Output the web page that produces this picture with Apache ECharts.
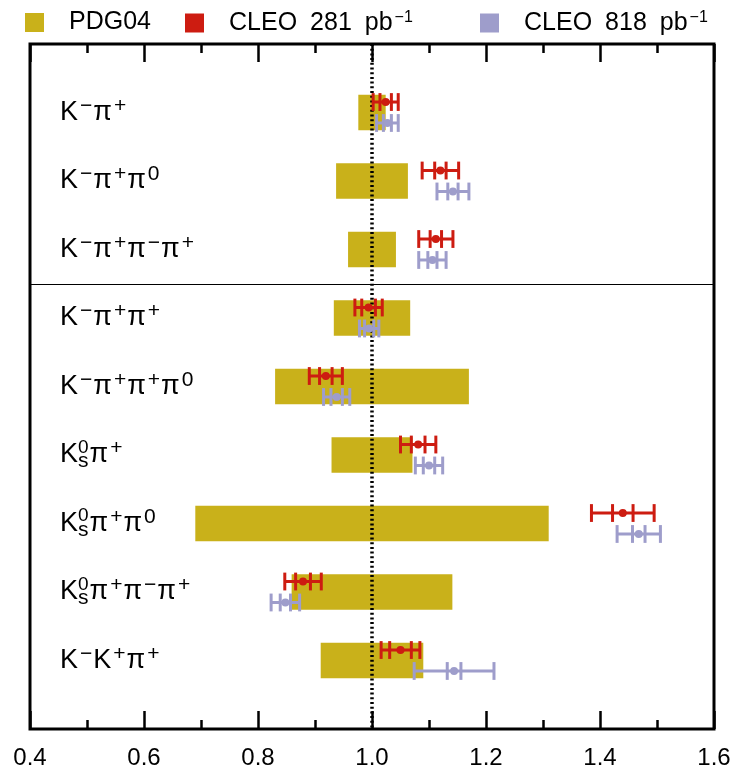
<!DOCTYPE html>
<html>
<head>
<meta charset="utf-8">
<script src="https://cdn.jsdelivr.net/npm/echarts@6/dist/echarts.min.js"></script>
<style>
  html, body { margin: 0; padding: 0; background: #fff; }
  #chart { width: 736px; height: 773px; }
</style>
</head>
<body>
<div id="chart"></div>
<script>
// Decay channels, top to bottom (rich-text markup: b = base, sp = superscript, sz/sb = stacked sup/sub)
const channels = [
  '{b|K}{sp|−}{b|π}{sp|+}',
  '{b|K}{sp|−}{b|π}{sp|+}{b|π}{sp|0}',
  '{b|K}{sp|−}{b|π}{sp|+}{b|π}{sp|−}{b|π}{sp|+}',
  '{b|K}{sp|−}{b|π}{sp|+}{b|π}{sp|+}',
  '{b|K}{sp|−}{b|π}{sp|+}{b|π}{sp|+}{b|π}{sp|0}',
  '{b|K}{sz|0}{sb|s}{b|π}{sp|+}',
  '{b|K}{sz|0}{sb|s}{b|π}{sp|+}{b|π}{sp|0}',
  '{b|K}{sz|0}{sb|s}{b|π}{sp|+}{b|π}{sp|−}{b|π}{sp|+}',
  '{b|K}{sp|−}{b|K}{sp|+}{b|π}{sp|+}'
];

// PDG04 reference (normalised) and its uncertainty
const pdgValue = [1.0, 1.0, 1.0, 1.0, 1.0, 1.0, 1.0, 1.0, 1.0];
const pdgError = [0.024, 0.063, 0.042, 0.067, 0.170, 0.071, 0.310, 0.141, 0.090];

// CLEO 281 pb^-1: central value, statistical error, total error
const cleo281Value = [1.024, 1.120, 1.112, 0.994, 0.919, 1.081, 1.440, 0.879, 1.050];
const cleo281Stat  = [0.010, 0.010, 0.010, 0.012, 0.011, 0.012, 0.018, 0.013, 0.019];
const cleo281Total = [0.022, 0.032, 0.030, 0.024, 0.029, 0.031, 0.055, 0.032, 0.034];

// CLEO 818 pb^-1: central value, statistical error, total error
const cleo818Value = [1.027, 1.142, 1.106, 0.995, 0.938, 1.100, 1.468, 0.848, 1.144];
const cleo818Stat  = [0.007, 0.009, 0.008, 0.008, 0.010, 0.010, 0.011, 0.009, 0.012];
const cleo818Total = [0.019, 0.028, 0.024, 0.017, 0.023, 0.024, 0.038, 0.025, 0.070];

const xTicks = [0.4, 0.6, 0.8, 1.0, 1.2, 1.4, 1.6];

const GOLD = '#c9b11a';
const RED = '#cd1c11';
const LAVENDER = '#9e9dcb';
const FONT = "'Liberation Sans', Arial, sans-serif";

const pdgData = pdgValue.map((v, i) => [i, v, pdgError[i]]);
const c281Data = cleo281Value.map((v, i) => [i, v, cleo281Stat[i], cleo281Total[i]]);
const c818Data = cleo818Value.map((v, i) => [i, v, cleo818Stat[i], cleo818Total[i]]);

function renderBand(params, api) {
  const row = api.value(0), v = api.value(1), e = api.value(2);
  const a = api.coord([v - e, row - 0.26]);
  const b = api.coord([v + e, row + 0.26]);
  return {
    type: 'rect',
    shape: { x: a[0], y: a[1], width: b[0] - a[0], height: b[1] - a[1] },
    style: { fill: GOLD }
  };
}

function errorRenderer(color, rowShift) {
  return function (params, api) {
    const row = api.value(0) + rowShift;
    const v = api.value(1), s = api.value(2), t = api.value(3);
    const c = api.coord([v, row]);
    const capHalf = api.size([0, 0.13])[1];
    const xs = [v - t, v - s, v + s, v + t].map(x => api.coord([x, row])[0]);
    const lineStyle = { stroke: color, lineWidth: 3 };
    const children = [{
      type: 'line',
      shape: { x1: xs[0], y1: c[1], x2: xs[3], y2: c[1] },
      style: lineStyle
    }];
    xs.forEach(x => children.push({
      type: 'line',
      shape: { x1: x, y1: c[1] - capHalf, x2: x, y2: c[1] + capHalf },
      style: lineStyle
    }));
    children.push({
      type: 'circle',
      shape: { cx: c[0], cy: c[1], r: 4 },
      style: { fill: color }
    });
    return { type: 'group', children };
  };
}

const axisCommon = {
  type: 'value',
  min: 0.4,
  max: 1.6,
  interval: 0.2,
  axisLine: { show: false, onZero: false },
  splitLine: { show: false },
  axisTick: { show: true, inside: true, length: 18, lineStyle: { color: '#000', width: 2.5 } },
  minorTick: { show: true, splitNumber: 2, length: 9, lineStyle: { color: '#000', width: 2.5 } }
};

const legendText = {
  color: '#000',
  fontFamily: FONT,
  fontSize: 25,
  rich: {
    g: { width: 20, fontSize: 25, lineHeight: 26 },
    t: { fontSize: 25, fontFamily: FONT, color: '#000', lineHeight: 26 },
    s: { width: 13, fontSize: 25, lineHeight: 26 },
    sp: { fontSize: 16, fontFamily: FONT, color: '#000', verticalAlign: 'top', lineHeight: 14, padding: [0, 0, 0, 2] }
  }
};

function legendFor(name, left, label) {
  return {
    left: left,
    top: 5,
    itemWidth: 19,
    itemHeight: 19,
    data: [{ name: name, icon: 'rect' }],
    formatter: () => label,
    textStyle: legendText,
    selectedMode: false
  };
}

const chart = echarts.init(document.getElementById('chart'), null, { renderer: 'canvas' });

chart.setOption({
  animation: false,
  backgroundColor: '#fff',
  legend: [
    legendFor('PDG04', 20, '{g| }{t|PDG04}'),
    legendFor('CLEO 281', 180, '{g| }{t|CLEO}{s| }{t|281}{s| }{t|pb}{sp|−1}'),
    legendFor('CLEO 818', 475, '{g| }{t|CLEO}{s| }{t|818}{s| }{t|pb}{sp|−1}')
  ],
  grid: {
    left: 30, right: 22, top: 44, bottom: 44,
    show: true,
    borderColor: '#000',
    borderWidth: 3,
    backgroundColor: 'transparent'
  },
  xAxis: [
    Object.assign({}, axisCommon, {
      position: 'bottom',
      axisLabel: {
        show: true,
        margin: 17,
        color: '#000',
        fontSize: 24,
        fontFamily: FONT,
        formatter: v => xTicks.some(t => Math.abs(t - v) < 1e-6) ? v.toFixed(1) : ''
      }
    }),
    Object.assign({}, axisCommon, {
      position: 'top',
      axisLabel: { show: false }
    })
  ],
  yAxis: {
    type: 'value',
    min: -1,
    max: 9,
    interval: 1,
    inverse: true,
    axisLine: { show: false, onZero: false },
    axisTick: { show: false },
    splitLine: { show: false },
    axisLabel: {
      inside: true,
      margin: 30,
      color: '#000',
      formatter: v => (v >= 0 && v < channels.length) ? channels[v] : '',
      rich: {
        b: { fontSize: 27, fontFamily: FONT, color: '#000', lineHeight: 34 },
        sp: { fontSize: 21, fontFamily: FONT, color: '#000', verticalAlign: 'top', lineHeight: 22, padding: [0, 1, 0, 2] },
        sz: { fontSize: 19, fontFamily: FONT, color: '#000', verticalAlign: 'top', lineHeight: 20, width: 0 },
        sb: { fontSize: 21, fontFamily: FONT, color: '#000', verticalAlign: 'bottom', lineHeight: 14, padding: [0, 1, 0, 0] }
      }
    }
  },
  series: [
    {
      name: 'PDG04',
      type: 'custom',
      xAxisIndex: 0,
      yAxisIndex: 0,
      itemStyle: { color: GOLD },
      renderItem: renderBand,
      data: pdgData,
      z: 2,
      markLine: {
        silent: true,
        symbol: 'none',
        label: { show: false },
        z: 5,
        data: [
          { xAxis: 1.0, lineStyle: { color: '#000', width: 3.5, type: [2, 2.7] } },
          { yAxis: 2.5, lineStyle: { color: '#000', width: 1, type: 'solid' } }
        ]
      }
    },
    {
      name: 'CLEO 281',
      type: 'custom',
      xAxisIndex: 0,
      yAxisIndex: 0,
      itemStyle: { color: RED },
      renderItem: errorRenderer(RED, -0.153),
      data: c281Data,
      z: 10
    },
    {
      name: 'CLEO 818',
      type: 'custom',
      xAxisIndex: 0,
      yAxisIndex: 0,
      itemStyle: { color: LAVENDER },
      renderItem: errorRenderer(LAVENDER, 0.153),
      data: c818Data,
      z: 10
    }
  ]
});
</script>
</body>
</html>
